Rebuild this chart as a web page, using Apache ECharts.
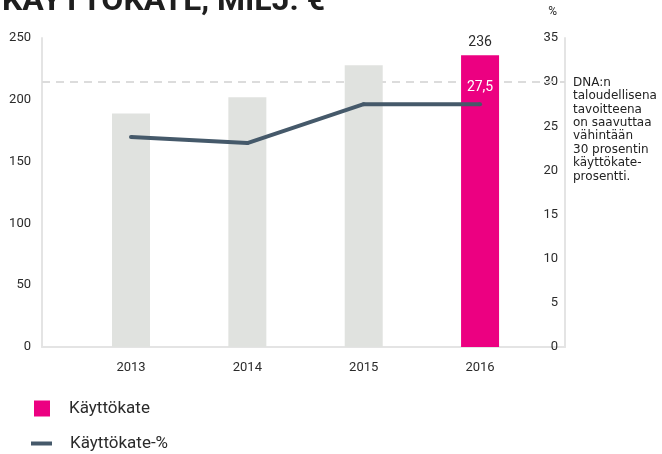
<!DOCTYPE html>
<html>
<head>
<meta charset="utf-8">
<script src="https://cdn.jsdelivr.net/npm/echarts@6/dist/echarts.min.js"></script>
<style>
  html, body { margin: 0; padding: 0; background: #fff; }
  #tu1 { width: 662px; height: 454px; }
</style>
</head>
<body>
<div id="tu1"></div>
<script>
    // data
    var vuodet = [2013, 2014, 2015, 2016];
    var kayttokate = [189, 202, 228, 236];
    var kayttokatePros = [23.8, 23.1, 27.5, 27.5];
    var tavoite = 30;
    var vasenMax = 250, vasenVali = 50;
    var oikeaMax = 35, oikeaVali = 5;
    var huomautus = ['DNA:n', 'taloudellisena', 'tavoitteena', 'on saavuttaa', 'vähintään', '30 prosentin', 'käyttökate-', 'prosentti.'];

    var pinkki = '#ec0081';
    var harmaa = '#e0e2df';
    var viiva = '#45596a';
    var akseli = '#e4e4e4';
    var teksti = '#2b2b2b';
    var fontti = 'Roboto, "Liberation Sans", sans-serif';

    var palkit = vuodet.map(function (v, i) {
        var d = {value: [v, kayttokate[i]]};
        if (i < vuodet.length - 1) {
            d.itemStyle = {color: harmaa};
        } else {
            d.label = {show: true};
        }
        return d;
    });

    var pisteet = vuodet.map(function (v, i) {
        var d = {value: [v, kayttokatePros[i]]};
        if (i === vuodet.length - 1) {
            d.label = {show: true};
        }
        return d;
    });

    var myChart1 = echarts.init(document.getElementById('tu1'));

    var option1 = {
        animation: false,
        title: {
            text: 'KÄYTTÖKATE, MILJ. €',
            left: -3,
            top: -19,
            textStyle: {
                fontFamily: fontti,
                fontSize: 32,
                fontWeight: 'bold',
                color: '#1e1e1e'
            }
        },
        grid: {
            left: 42,
            right: 97,
            top: 38,
            bottom: 107
        },
        legend: [
            {
                data: [{name: 'Käyttökate', icon: 'rect'}],
                orient: 'vertical',
                left: 29,
                top: 395,
                itemWidth: 16,
                itemHeight: 16,
                textStyle: {fontFamily: fontti, fontSize: 17, color: teksti, padding: [0, 0, 0, 14]}
            },
            {
                data: [{name: 'Käyttökate-%', icon: 'rect'}],
                orient: 'vertical',
                left: 26,
                top: 430,
                itemWidth: 21,
                itemHeight: 4,
                textStyle: {fontFamily: fontti, fontSize: 17, color: teksti, padding: [0, 0, 0, 13]}
            }
        ],
        xAxis: {
            type: 'value',
            min: 2012.235,
            max: 2016.73,
            axisLine: {show: true, lineStyle: {color: akseli, width: 2}},
            axisTick: {show: false},
            splitLine: {show: false},
            axisLabel: {
                customValues: vuodet,
                formatter: function (v) { return String(v); },
                margin: 14,
                fontFamily: fontti,
                fontSize: 13,
                color: teksti
            }
        },
        yAxis: [
            {
                type: 'value',
                min: 0,
                max: vasenMax,
                interval: vasenVali,
                axisLine: {show: true, lineStyle: {color: akseli, width: 2}},
                axisTick: {show: false},
                splitLine: {show: false},
                axisLabel: {
                    margin: 11,
                    fontFamily: fontti,
                    fontSize: 13,
                    color: teksti,
                    padding: [0, 0, 5, 0]
                }
            },
            {
                type: 'value',
                min: 0,
                max: oikeaMax,
                interval: oikeaVali,
                name: '%',
                nameLocation: 'end',
                nameGap: 20,
                nameTextStyle: {
                    fontFamily: fontti,
                    fontSize: 12,
                    color: teksti,
                    align: 'right',
                    padding: [0, 8, 0, 0]
                },
                axisLine: {show: true, lineStyle: {color: akseli, width: 2}},
                axisTick: {show: false},
                splitLine: {show: false},
                axisLabel: {
                    inside: true,
                    margin: 7,
                    fontFamily: fontti,
                    fontSize: 13,
                    color: teksti,
                    padding: [0, 0, 4, 0]
                }
            }
        ],
        series: [
            {
                name: 'Käyttökate',
                type: 'bar',
                yAxisIndex: 0,
                z: 3,
                barWidth: 38,
                color: pinkki,
                data: palkit,
                label: {
                    show: false,
                    position: 'top',
                    distance: 6,
                    fontFamily: fontti,
                    fontSize: 14,
                    color: teksti
                }
            },
            {
                name: 'Käyttökate-%',
                type: 'line',
                yAxisIndex: 1,
                z: 4,
                color: viiva,
                symbol: 'circle',
                symbolSize: 4,
                lineStyle: {color: viiva, width: 4},
                data: pisteet,
                label: {
                    show: false,
                    position: 'top',
                    distance: 8,
                    fontFamily: fontti,
                    fontSize: 14,
                    color: '#fff',
                    formatter: function (p) {
                        return String(p.value[1].toFixed(1)).replace('.', ',');
                    }
                },
                markLine: {
                    silent: true,
                    z: 1,
                    symbol: 'none',
                    label: {show: false},
                    lineStyle: {color: '#dcdcdc', type: [8, 6], width: 2},
                    data: [{yAxis: tavoite}]
                }
            }
        ],
        graphic: [
            {
                type: 'text',
                left: 573,
                top: 76,
                style: {
                    text: huomautus.join('\n'),
                    fontFamily: '"DejaVu Sans", sans-serif',
                    fontSize: 12,
                    lineHeight: 13.4,
                    fill: '#222'
                }
            }
        ]
    };
    myChart1.setOption(option1);
</script>
</body>
</html>
